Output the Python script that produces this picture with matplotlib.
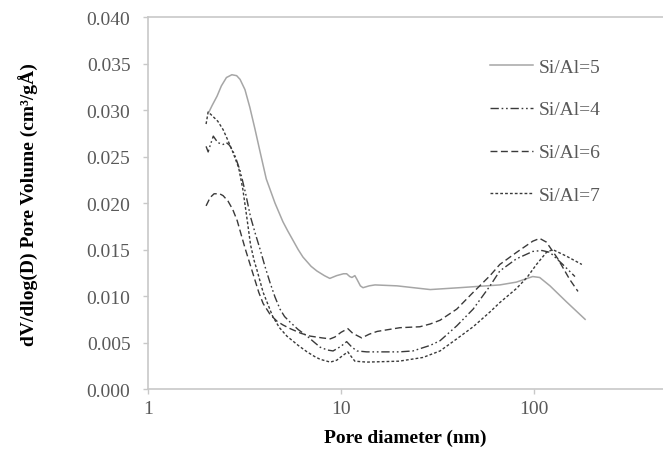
import matplotlib
matplotlib.use("Agg")
import matplotlib.pyplot as plt
from matplotlib.ticker import FixedLocator, FixedFormatter, NullLocator

# Data
d5 = [2.07, 2.15, 2.28, 2.4, 2.55, 2.72, 2.88, 3.0, 3.18, 3.37, 3.58, 3.8, 4.1, 4.55, 5.0, 5.3, 5.64,
      6.0, 6.35, 7.0, 7.5, 8.2, 8.75, 9.5, 10.3, 10.7, 11.1, 11.4, 11.8, 12.1, 12.6, 13.0, 14.0, 15.0,
      19.5, 29.0, 41.0, 66.5, 81.0, 98.5, 107, 121, 147, 184]
v5 = [0.0298, 0.0305, 0.0315, 0.0326, 0.0335, 0.0338, 0.0337, 0.0333, 0.0322, 0.0303, 0.0280, 0.0256,
      0.0226, 0.0200, 0.0180, 0.0170, 0.0160, 0.0150, 0.0142, 0.0132, 0.0127, 0.0122, 0.0119, 0.0122,
      0.0124, 0.0124, 0.0121, 0.0120, 0.0122, 0.0118, 0.0111, 0.0109, 0.0111, 0.0112, 0.0111, 0.0107,
      0.0109, 0.0112, 0.0115, 0.0121, 0.0120, 0.0111, 0.0094, 0.0075]

d4 = [2.0, 2.05, 2.1, 2.18, 2.3, 2.45, 2.55, 2.65, 2.8, 3.0, 3.2, 3.4, 3.6, 3.8, 4.05, 4.28, 4.55,
      4.83, 5.1, 5.45, 6.0, 6.67, 7.3, 7.8, 8.5, 9.1, 10.0, 10.7, 11.4, 12.1, 13.6, 20.0, 23.6, 29.0,
      32.6, 39.8, 48.4, 59.2, 66.5, 81.0, 98.5, 110, 121, 141, 163]
v4 = [0.0261, 0.0255, 0.0262, 0.0272, 0.0265, 0.0263, 0.0265, 0.0262, 0.0253, 0.0235, 0.0211, 0.0185,
      0.0167, 0.0151, 0.0131, 0.0115, 0.0099, 0.0086, 0.0078, 0.0072, 0.0064, 0.0057, 0.0050, 0.0045,
      0.0042, 0.0041, 0.0046, 0.0051, 0.0045, 0.0041, 0.0040, 0.0040, 0.0041, 0.0047, 0.0052, 0.0068,
      0.0086, 0.0111, 0.0127, 0.0140, 0.0148, 0.0149, 0.0147, 0.0134, 0.0121]

d6 = [2.0, 2.1, 2.2, 2.35, 2.45, 2.6, 2.75, 2.9, 3.05, 3.2, 3.5, 3.75, 3.95, 4.3, 4.66, 5.0, 5.45,
      6.2, 6.9, 8.0, 8.8, 9.3, 10.0, 10.85, 11.5, 12.8, 14.0, 15.4, 20.2, 25.6, 29.0, 32.6, 39.8, 48.4,
      59.2, 66.5, 81.2, 98.5, 107, 116, 133, 153, 169]
v6 = [0.0197, 0.0206, 0.0210, 0.0210, 0.0208, 0.0202, 0.0193, 0.0181, 0.0165, 0.0150, 0.0124, 0.0104,
      0.0092, 0.0080, 0.0073, 0.0069, 0.0065, 0.0060, 0.0057, 0.0055, 0.0054, 0.0056, 0.0061, 0.0065,
      0.0060, 0.0055, 0.0059, 0.0062, 0.0066, 0.0067, 0.0070, 0.0074, 0.0086, 0.0104, 0.0122, 0.0134,
      0.0147, 0.0159, 0.0162, 0.0158, 0.0140, 0.0118, 0.0105]

d7 = [2.0, 2.05, 2.15, 2.3, 2.45, 2.6, 2.75, 2.95, 3.1, 3.25, 3.4, 3.55, 3.67, 3.95, 4.43, 4.8, 5.24,
      6.0, 6.67, 7.3, 7.8, 8.8, 9.5, 10.2, 10.85, 11.3, 11.8, 13.6, 20.0, 26.6, 32.6, 39.8, 48.4, 59.2,
      66.5, 81.0, 92.0, 103, 116, 125, 147, 177]
v7 = [0.0285, 0.0298, 0.0294, 0.0288, 0.0279, 0.0267, 0.0255, 0.0238, 0.0215, 0.0185, 0.0155, 0.0138,
      0.0128, 0.0104, 0.0078, 0.0066, 0.0057, 0.0047, 0.0040, 0.0035, 0.0032, 0.0029, 0.0031, 0.0036,
      0.0040, 0.0035, 0.0030, 0.0029, 0.0030, 0.0034, 0.0041, 0.0054, 0.0067, 0.0083, 0.0093, 0.0108,
      0.0120, 0.0134, 0.0147, 0.0150, 0.0143, 0.0134]

labels = ["Si/Al=5", "Si/Al=4", "Si/Al=6", "Si/Al=7"]
yticks = [0.000, 0.005, 0.010, 0.015, 0.020, 0.025, 0.030, 0.035, 0.040]
xticks = [1, 10, 100]

plt.rcParams['font.family'] = ['Liberation Serif', 'DejaVu Serif']

fig = plt.figure(figsize=(6.63, 4.52), dpi=100)
ax = fig.add_axes([0.2232, 0.137, 1.0 - 0.2232, 0.960 - 0.137])

dark = '#3a3a3a'
ax.plot(d5, v5, color='#a6a6a6', lw=1.1, ls='-', label=labels[0])
ax.plot(d4, v4, color=dark, lw=1.0, ls=(0, (6, 2, 1.2, 2, 1.2, 2)), label=labels[1])
ax.plot(d6, v6, color=dark, lw=1.0, ls=(0, (5, 2.5)), label=labels[2])
ax.plot(d7, v7, color=dark, lw=1.0, ls=(0, (2, 1.5)), label=labels[3])

ax.set_xscale('log')
ax.set_xlim(1, 466)
ax.set_ylim(0, 0.040)
ax.xaxis.set_major_locator(FixedLocator(xticks))
ax.xaxis.set_major_formatter(FixedFormatter([str(t) for t in xticks]))
ax.xaxis.set_minor_locator(NullLocator())
ax.set_yticks(yticks)
ax.set_yticklabels([f"{t:.3f}" for t in yticks])

grey = '#c8c8c8'
for s in ['left', 'bottom', 'top']:
    ax.spines[s].set_color(grey)
    ax.spines[s].set_linewidth(1.2)
ax.spines['right'].set_visible(False)
ax.tick_params(axis='both', direction='out', length=3.6, width=1.0, color=grey,
               labelcolor='#595959', labelsize=14)
ax.tick_params(axis='y', pad=9)
ax.tick_params(axis='x', pad=4.4)

ax.set_xlabel('Pore diameter (nm)', fontsize=14, fontweight='bold', labelpad=8)
ax.set_ylabel('dV/dlog(D) Pore Volume (cm³/gÅ)', fontsize=14, fontweight='bold')
ax.yaxis.set_label_coords(-0.212, 0.5)

leg = ax.legend(loc='upper left', bbox_to_anchor=(0.649, 0.911), frameon=False, fontsize=14,
                labelspacing=1.3, handlelength=2.2, handletextpad=0.3, borderaxespad=0)
for t in leg.get_texts():
    t.set_color('#595959')

fig.savefig('out.png', dpi=100)
